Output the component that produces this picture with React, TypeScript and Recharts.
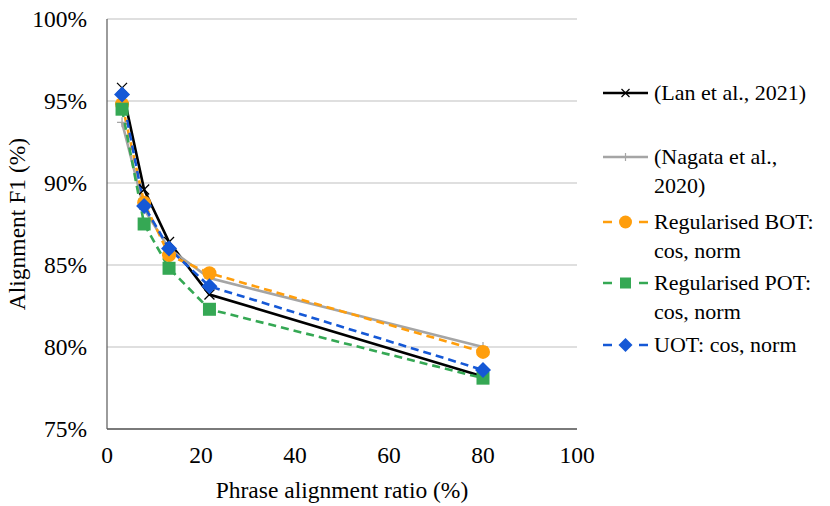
import React from 'react';
import { LineChart, Line, XAxis, YAxis, CartesianGrid, Label } from 'recharts';

// Phrase alignment ratio (%) for each measured point
const ratios = [3.2, 7.9, 13.2, 21.8, 80];

// Alignment F1 (%) per method
const lan = [95.8, 89.6, 86.4, 83.2, 78.2];
const nagata = [93.7, 88.4, 86.0, 84.2, 80.0];
const bot = [94.8, 88.8, 85.6, 84.5, 79.7];
const pot = [94.5, 87.5, 84.8, 82.3, 78.1];
const uot = [95.4, 88.6, 86.0, 83.7, 78.6];

const xTicks = [0, 20, 40, 60, 80, 100];
const yTicks = [75, 80, 85, 90, 95, 100];

const FONT = "'Liberation Serif', 'Times New Roman', serif";
const ORANGE = '#ff9e0c';
const GREEN = '#35a854';
const BLUE = '#1558d6';
const GREY = '#a5a5a5';

const data = ratios.map((r, i) => ({
  ratio: r,
  lan: lan[i],
  nagata: nagata[i],
  bot: bot[i],
  pot: pot[i],
  uot: uot[i],
}));

// marker shapes
const CrossDot = (p: any) => {
  const { cx, cy, index } = p;
  if (cx == null || cy == null) return <g key={index} />;
  const s = 5;
  return (
    <path
      key={`lan-${index}`}
      d={`M${cx - s},${cy - s}L${cx + s},${cy + s}M${cx + s},${cy - s}L${cx - s},${cy + s}`}
      stroke="#000"
      strokeWidth={1.3}
      fill="none"
    />
  );
};

const PlusDot = (p: any) => {
  const { cx, cy, index } = p;
  if (cx == null || cy == null) return <g key={index} />;
  const s = 5;
  return (
    <path
      key={`nag-${index}`}
      d={`M${cx - s},${cy}L${cx + s},${cy}M${cx},${cy - s}L${cx},${cy + s}`}
      stroke={GREY}
      strokeWidth={1.3}
      fill="none"
    />
  );
};

const CircleDot = (p: any) => {
  const { cx, cy, index } = p;
  if (cx == null || cy == null) return <g key={index} />;
  return <circle key={`bot-${index}`} cx={cx} cy={cy} r={7} fill={ORANGE} />;
};

const SquareDot = (p: any) => {
  const { cx, cy, index } = p;
  if (cx == null || cy == null) return <g key={index} />;
  return <rect key={`pot-${index}`} x={cx - 6.5} y={cy - 6.5} width={13} height={13} fill={GREEN} />;
};

const DiamondDot = (p: any) => {
  const { cx, cy, index } = p;
  if (cx == null || cy == null) return <g key={index} />;
  const s = 8;
  return (
    <polygon
      key={`uot-${index}`}
      points={`${cx},${cy - s} ${cx + s},${cy} ${cx},${cy + s} ${cx - s},${cy}`}
      fill={BLUE}
    />
  );
};

const YTitle = (props: any) => {
  const { viewBox } = props;
  const x = viewBox.x + 17;
  const y = viewBox.y + viewBox.height / 2;
  return (
    <text
      x={x}
      y={y}
      transform={`rotate(-90, ${x}, ${y})`}
      textAnchor="middle"
      dominantBaseline="central"
      fontSize={23.5}
      fontFamily={FONT}
      fill="#000"
    >
      Alignment F1 (%)
    </text>
  );
};

const legendItems = [
  { key: 'lan', lines: ['(Lan et al., 2021)'], color: '#000', dashed: false, marker: 'cross', top: 78 },
  { key: 'nagata', lines: ['(Nagata et al.,', '2020)'], color: GREY, dashed: false, marker: 'plus', top: 142 },
  { key: 'bot', lines: ['Regularised BOT:', 'cos, norm'], color: ORANGE, dashed: true, marker: 'circle', top: 207 },
  { key: 'pot', lines: ['Regularised POT:', 'cos, norm'], color: GREEN, dashed: true, marker: 'square', top: 268 },
  { key: 'uot', lines: ['UOT: cos, norm'], color: BLUE, dashed: true, marker: 'diamond', top: 330 },
];

const LegendIcon = ({ item }: { item: any }) => {
  const c = item.color;
  const m = 22.5;
  const y = 10;
  let marker: React.ReactNode = null;
  if (item.marker === 'cross')
    marker = <path d={`M${m - 4},${y - 4}L${m + 4},${y + 4}M${m + 4},${y - 4}L${m - 4},${y + 4}`} stroke={c} strokeWidth={1.2} />;
  if (item.marker === 'plus')
    marker = <path d={`M${m - 4},${y}L${m + 4},${y}M${m},${y - 4}L${m},${y + 4}`} stroke={c} strokeWidth={1.2} />;
  if (item.marker === 'circle') marker = <circle cx={m} cy={y} r={6.5} fill={c} />;
  if (item.marker === 'square') marker = <rect x={m - 5.5} y={y - 5.5} width={11} height={11} fill={c} />;
  if (item.marker === 'diamond')
    marker = <polygon points={`${m},${y - 7} ${m + 7},${y} ${m},${y + 7} ${m - 7},${y}`} fill={c} />;
  return (
    <svg width={46} height={20} style={{ display: 'block' }}>
      {item.dashed ? (
        <>
          <line x1={0} y1={y} x2={9} y2={y} stroke={c} strokeWidth={2.5} />
          <line x1={36} y1={y} x2={45} y2={y} stroke={c} strokeWidth={2.5} />
        </>
      ) : (
        <line x1={0} y1={y} x2={45} y2={y} stroke={c} strokeWidth={2.5} />
      )}
      {marker}
    </svg>
  );
};

export default function App() {
  return (
    <div style={{ position: 'absolute', left: 0, top: 0, width: 830, height: 506, background: '#fff', fontFamily: FONT }}>
      <LineChart width={830} height={506} data={data} margin={{ top: 19, right: 253, bottom: 0, left: 0 }}>
        <CartesianGrid vertical={false} stroke="#bfbfbf" strokeWidth={1.2} />
        <XAxis
          dataKey="ratio"
          type="number"
          domain={[0, 100]}
          ticks={xTicks}
          height={77}
          tickLine={false}
          tickSize={6}
          tickMargin={11}
          axisLine={{ stroke: '#595959', strokeWidth: 1.5 }}
          tick={{ fontSize: 23.5, fontFamily: FONT, fill: '#000' }}
        >
          <Label
            value="Phrase alignment ratio (%)"
            position="insideBottom"
            offset={8}
            style={{ fontSize: 23.5, fontFamily: FONT, fill: '#000' }}
          />
        </XAxis>
        <YAxis
          type="number"
          domain={[75, 100]}
          ticks={yTicks}
          width={107}
          tickLine={false}
          tickSize={6}
          tickMargin={14}
          axisLine={{ stroke: '#595959', strokeWidth: 1.2 }}
          tick={{ fontSize: 23.5, fontFamily: FONT, fill: '#000' }}
          tickFormatter={(v) => `${v}%`}
          label={{ content: YTitle }}
        />
        <Line dataKey="lan" stroke="#000" strokeWidth={2.6} dot={CrossDot} activeDot={false} isAnimationActive={false} />
        <Line dataKey="nagata" stroke={GREY} strokeWidth={2.6} dot={PlusDot} activeDot={false} isAnimationActive={false} />
        <Line dataKey="bot" stroke={ORANGE} strokeWidth={2.6} strokeDasharray="8 5" dot={CircleDot} activeDot={false} isAnimationActive={false} />
        <Line dataKey="pot" stroke={GREEN} strokeWidth={2.6} strokeDasharray="8 5" dot={SquareDot} activeDot={false} isAnimationActive={false} />
        <Line dataKey="uot" stroke={BLUE} strokeWidth={2.6} strokeDasharray="8 5" dot={DiamondDot} activeDot={false} isAnimationActive={false} />
      </LineChart>
      {legendItems.map((item) => (
        <div key={item.key} style={{ position: 'absolute', left: 603, top: item.top, display: 'flex', alignItems: 'flex-start' }}>
          <div style={{ marginTop: 4.5 }}>
            <LegendIcon item={item} />
          </div>
          <div style={{ marginLeft: 5, fontSize: 22, lineHeight: '29px', color: '#000', whiteSpace: 'nowrap' }}>
            {item.lines.map((l: string) => (
              <div key={l}>{l}</div>
            ))}
          </div>
        </div>
      ))}
    </div>
  );
}
